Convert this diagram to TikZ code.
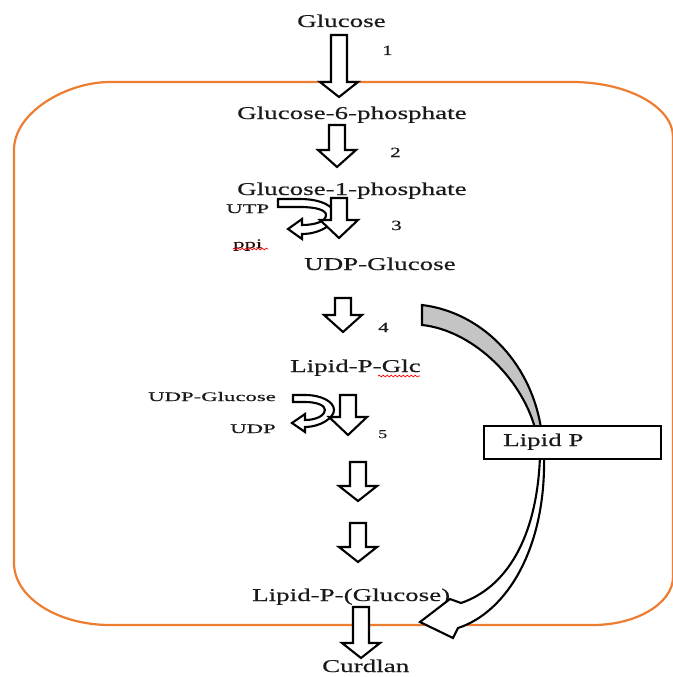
\documentclass[tikz,border=0pt]{standalone}
\usepackage{fontspec}
\setmainfont{Liberation Serif}
\newfontfamily\widefont[FakeStretch=1.5,FakeBold=0.5]{Liberation Serif}
\newfontfamily\smallfont[FakeStretch=1.75,FakeBold=0.4]{Liberation Serif}
\usetikzlibrary{decorations.pathmorphing}
\definecolor{frameorange}{HTML}{ED7D31}
\definecolor{ink}{HTML}{1A1A1A}
\definecolor{arcgray}{HTML}{C4C4C4}
\tikzset{
 lbl/.style={inner sep=0pt, anchor=base west, text=ink, font=\widefont\fontsize{18}{20}\selectfont},
 sml/.style={inner sep=0pt, anchor=base west, text=ink, font=\smallfont\fontsize{13}{15}\selectfont},
 num/.style={inner sep=0pt, anchor=base west, text=ink, font=\widefont\fontsize{14}{16}\selectfont},
 blockarr/.style={draw=black, fill=white, line width=2.1pt, line join=miter},
 frameline/.style={draw=frameorange, line width=2.2pt},
 spell/.style={draw=red, line width=0.7pt, decorate, decoration={snake, amplitude=0.9pt, segment length=4pt}},
 boxstyle/.style={draw=black, fill=white, line width=2.4pt, inner sep=0pt, minimum width=177pt, minimum height=33pt, anchor=north west},
}
\newcommand\hollowdown[4]{%
 \draw[blockarr] (#1-8,#2) -- (#1+8,#2) -- (#1+8,#3) -- (#1+19,#3) -- (#1,#4) -- (#1-19,#3) -- (#1-8,#3) -- cycle;}
\begin{document}
\begin{tikzpicture}[x=1pt,y=-1pt]
\useasboundingbox (0,0) rectangle (672,677);
\fill[white] (0,0) rectangle (672,677);
% orange cell outline
\draw[frameline] (110,82) -- (572,82) .. controls (628,82) and (673,107) .. (673,137)
 -- (673,577) .. controls (673,603) and (637,625) .. (593,625)
 -- (110,625) .. controls (57,625) and (14,597) .. (14,563)
 -- (14,150) .. controls (14,112) and (67,82) .. (110,82) -- cycle;
% labels
\node[lbl] (glc) at (297,27) {Glucose};
\node[lbl] (g6p) at (237,119) {Glucose-6-phosphate};
\node[lbl] (g1p) at (237,195) {Glucose-1-phosphate};
\node[sml] (utp) at (226,213) {UTP};
\node[sml, text=ink!80!red!60!black] (ppi) at (233,248) {ppi};
\node[lbl] (udpg) at (304,270) {UDP-Glucose};
\node[lbl] (lpg) at (290,372) {Lipid-P-Glc};
\node[sml] (udpgs) at (148,401) {UDP-Glucose};
\node[sml] (udp) at (230,433) {UDP};
\node[lbl] (lpgn) at (252,601) {Lipid-P-(Glucose)};
\node[lbl] (curd) at (322,672) {Curdlan};
\node[num] (n1) at (382,55) {1};
\node[num] (n2) at (390,157) {2};
\node[num] (n3) at (391,230) {3};
\node[num] (n4) at (378,332) {4};
\node[num, font=\widefont\fontsize{12}{14}\selectfont] (n5) at (378,438) {5};
% spell-check squiggles
\draw[spell] (233,249) -- (268,249);
\draw[spell] (378,376) -- (420,376);
% big curved arrow (lipid P recycling)
\draw[fill=arcgray, draw=black, line width=2.1pt, line join=miter]
 (422,305) .. controls (480,312) and (530,360) .. (541,428)
 -- (535,428) .. controls (520,375) and (470,330) .. (422,325) -- cycle;
\draw[blockarr]
 (540,456) .. controls (537,540) and (505,588) .. (461,603)
 -- (450,599) -- (420,622) -- (453,638) -- (458,628)
 .. controls (507,612) and (546,548) .. (544,456) -- cycle;
\node[boxstyle] (lipidbox) at (483,425) {};
\node[lbl] (lipidtxt) at (503,446) {Lipid P};
% main pathway block arrows
\hollowdown{339}{35}{82}{97}
\hollowdown{337}{125}{150}{167}
% step 3 side arrow (UTP -> ppi)
\draw[blockarr]
 (278,199) -- (300,199) .. controls (322,199) and (335,207) .. (335,215)
 .. controls (335,224) and (320,234) .. (302,234) -- (302,239) -- (288,229) -- (302,219) -- (302,225)
 .. controls (316,225) and (326,221) .. (326,215) .. controls (326,210) and (316,207) .. (300,207)
 -- (278,207) -- cycle;
\hollowdown{339}{198}{220}{238}
\hollowdown{343}{298}{315}{332}
% step 5 side arrow (UDP-Glucose -> UDP)
\draw[blockarr]
 (293,395) -- (305,395) .. controls (322,395) and (334,402) .. (334,410)
 .. controls (334,418) and (320,427) .. (305,427) -- (305,432) -- (292,423) -- (305,414) -- (305,420)
 .. controls (317,420) and (325,415) .. (325,410) .. controls (325,405) and (316,402) .. (305,402)
 -- (293,402) -- cycle;
\hollowdown{348}{395}{417}{435}
\hollowdown{358}{462}{486}{501}
\hollowdown{358}{523}{547}{562}
\hollowdown{361}{607}{643}{658}
\end{tikzpicture}
\end{document}
